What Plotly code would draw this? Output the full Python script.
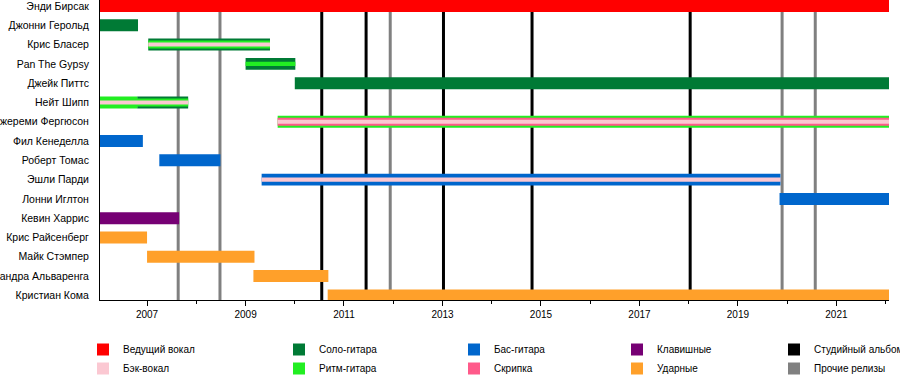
import pandas as pd
import plotly.graph_objects as go

# ---------------- data ----------------
TL_START = "2006-01-17"
TL_END = "2022-01-26"

members = ["Энди Бирсак", "Джонни Герольд", "Крис Бласер", "Pan The Gypsy",
           "Джейк Питтс", "Нейт Шипп", "Джереми Фергюсон", "Фил Кенеделла",
           "Роберт Томас", "Эшли Парди", "Лонни Иглтон", "Кевин Харрис",
           "Крис Райсенберг", "Майк Стэмпер", "Сандра Альваренга", "Кристиан Кома"]

role_names = ["Ведущий вокал", "Бэк-вокал", "Соло-гитара", "Ритм-гитара",
              "Бас-гитара", "Скрипка", "Клавишные", "Ударные"]
role_colors = ["#FF0000", "#FBC8D2", "#007A35", "#22EE22",
               "#0066CC", "#FF5A8A", "#760074", "#FFA02A"]

release_names = ["Студийный альбом", "Прочие релизы"]
release_colors = ["#000000", "#808080"]
album_dates = ["2010-07-20", "2011-06-14", "2013-01-08", "2014-10-27", "2018-01-12"]
other_dates = ["2007-08-20", "2008-06-25", "2011-12-10", "2019-11-25", "2020-07-28"]

# main (full-width) bars
outer_member = ["Энди Бирсак", "Джонни Герольд", "Крис Бласер", "Pan The Gypsy",
                "Джейк Питтс", "Нейт Шипп", "Нейт Шипп", "Джереми Фергюсон",
                "Фил Кенеделла", "Роберт Томас", "Эшли Парди", "Лонни Иглтон",
                "Кевин Харрис", "Крис Райсенберг", "Майк Стэмпер",
                "Сандра Альваренга", "Кристиан Кома"]
outer_role = ["Ведущий вокал", "Соло-гитара", "Соло-гитара", "Соло-гитара",
              "Соло-гитара", "Ритм-гитара", "Соло-гитара", "Ритм-гитара",
              "Бас-гитара", "Бас-гитара", "Бас-гитара", "Бас-гитара",
              "Клавишные", "Ударные", "Ударные", "Ударные", "Ударные"]
outer_start = [TL_START, TL_START, "2007-01-10", "2009-01-01",
               "2010-01-01", TL_START, "2006-10-20", "2009-08-27",
               TL_START, "2007-04-02", "2009-04-30", "2019-11-06",
               TL_START, TL_START, "2007-01-01", "2009-02-28", "2010-09-02"]
outer_end = [TL_END, "2006-10-26", "2009-07-01", "2010-01-05",
             TL_END, "2006-10-20", "2007-11-02", TL_END,
             "2006-12-01", "2008-06-28", "2019-11-13", TL_END,
             "2007-08-27", "2007-01-01", "2009-03-08", "2010-09-07", TL_END]

# middle stripes
middle_member = ["Крис Бласер", "Нейт Шипп", "Джереми Фергюсон"]
middle_role = ["Ритм-гитара", "Ритм-гитара", "Скрипка"]
middle_start = ["2007-01-10", TL_START, "2009-08-27"]
middle_end = ["2009-07-01", "2007-11-02", TL_END]

# inner stripes
inner_member = ["Крис Бласер", "Pan The Gypsy", "Нейт Шипп", "Джереми Фергюсон", "Эшли Парди"]
inner_role = ["Бэк-вокал", "Ритм-гитара", "Бэк-вокал", "Бэк-вокал", "Бэк-вокал"]
inner_start = ["2007-01-10", "2009-01-01", TL_START, "2009-08-27", "2009-04-30"]
inner_end = ["2009-07-01", "2010-01-05", "2007-11-02", TL_END, "2019-11-13"]

# ---------------- figure ----------------
FONT = "Liberation Sans"
fig = go.Figure()


def add_layer(mem, rol, sta, end, width):
    for role, color in zip(role_names, role_colors):
        idx = [i for i, r in enumerate(rol) if r == role]
        if not idx:
            continue
        s = pd.to_datetime([sta[i] for i in idx])
        e = pd.to_datetime([end[i] for i in idx])
        dur = [(b - a).total_seconds() * 1000 for a, b in zip(s, e)]
        fig.add_trace(go.Bar(
            orientation="h",
            y=[members.index(mem[i]) for i in idx],
            x=dur,
            base=[d.strftime("%Y-%m-%d") for d in s],
            width=width,
            marker=dict(color=color, line=dict(width=0)),
            showlegend=False, hoverinfo="skip",
        ))


add_layer(outer_member, outer_role, outer_start, outer_end, 0.62)
add_layer(middle_member, middle_role, middle_start, middle_end, 0.41)
add_layer(inner_member, inner_role, inner_start, inner_end, 0.21)

for dates, color in ((album_dates, release_colors[0]), (other_dates, release_colors[1])):
    for d in dates:
        fig.add_shape(type="line", xref="x", yref="paper", x0=d, x1=d, y0=0, y1=1,
                      line=dict(color=color, width=3), layer="below")

# legend entries (5 columns x 2 rows)
columns = [
    [("Ведущий вокал", role_colors[0]), ("Бэк-вокал", role_colors[1])],
    [("Соло-гитара", role_colors[2]), ("Ритм-гитара", role_colors[3])],
    [("Бас-гитара", role_colors[4]), ("Скрипка", role_colors[5])],
    [("Клавишные", role_colors[6]), ("Ударные", role_colors[7])],
    [(release_names[0], release_colors[0]), (release_names[1], release_colors[1])],
]
col_left_px = [83, 279, 454, 617, 774]
legend_layout = {}
for ci, (items, lx) in enumerate(zip(columns, col_left_px)):
    lname = "legend" if ci == 0 else f"legend{ci + 1}"
    for name, color in items:
        fig.add_trace(go.Bar(x=[None], y=[None], name=name, orientation="h",
                             marker=dict(color=color, line=dict(width=0)),
                             legend=lname, showlegend=True))
    legend_layout[lname] = dict(
        x=lx / 900, y=1 - 335 / 380, xref="container", yref="container",
        xanchor="left", yanchor="top", orientation="v",
        font=dict(family=FONT, size=10, color="black"),
        bgcolor="rgba(0,0,0,0)", itemclick=False, itemdoubleclick=False,
        tracegroupgap=0,
    )

fig.update_layout(
    width=900, height=380,
    margin=dict(l=100, r=11, t=0, b=80, autoexpand=False),
    barmode="overlay",
    plot_bgcolor="white", paper_bgcolor="white",
    font=dict(family=FONT, size=10, color="black"),
    **legend_layout,
)

fig.update_xaxes(
    type="date",
    range=[TL_START, TL_END],
    tick0="2007-01-01", dtick="M24", tickformat="%Y",
    ticks="outside", ticklen=5, tickcolor="black", tickwidth=1,
    minor=dict(dtick="M12", tick0="2006-01-01", ticks="outside", ticklen=3,
               tickcolor="black", showgrid=False),
    showgrid=False, zeroline=False,
    showline=True, linecolor="black", linewidth=1,
    tickfont=dict(family=FONT, size=10, color="black"),
    automargin=False, fixedrange=True,
)
fig.update_yaxes(
    range=[15.24, -0.31],
    tickvals=list(range(len(members))), ticktext=members,
    ticks="", showgrid=False, zeroline=False,
    showline=True, linecolor="black", linewidth=1,
    tickfont=dict(family=FONT, size=10.5, color="black"),
    ticklabelstandoff=8, ticklabeloverflow="allow",
    automargin=False, fixedrange=True,
)

fig.write_html("out.html", config={"displayModeBar": False, "staticPlot": True},
               post_script="document.body.style.margin='0';")
